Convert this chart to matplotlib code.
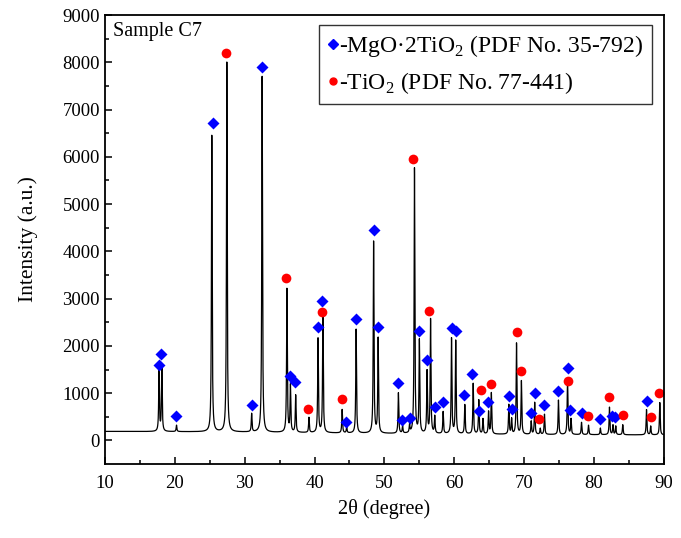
import numpy as np
import matplotlib
matplotlib.use('Agg')
import matplotlib.pyplot as plt
from matplotlib.lines import Line2D

plt.rcParams['font.family'] = 'Liberation Serif'
plt.rcParams['mathtext.fontset'] = 'custom'
plt.rcParams['mathtext.rm'] = 'Liberation Serif'

# peaks of the trace (2theta, intensity at top)
peak_pos = [17.75, 18.15, 20.25, 25.3, 27.45, 31.0, 32.5, 36.05, 36.55, 37.3,
            39.2, 40.5, 41.2, 43.95, 44.6, 45.95, 48.45, 49.1, 52.0, 52.6,
            53.6, 54.3, 55.0, 56.1, 56.6, 57.2, 58.4, 59.6, 60.2, 61.5,
            62.7, 63.5, 64.1, 64.9, 65.3, 67.8, 68.2, 68.9, 69.6, 71.0,
            71.5, 72.3, 72.9, 74.9, 76.2, 76.7, 78.2, 79.2, 80.9, 82.2,
            82.7, 83.1, 84.1, 87.5, 88.1, 89.4]
peak_int = [1450, 1600, 320, 6450, 8000, 560, 7700, 3200, 1150, 950,
            480, 2150, 2700, 650, 280, 2350, 4200, 2150, 1000, 300,
            320, 5750, 2100, 1450, 2550, 500, 600, 2150, 2100, 750,
            1200, 850, 450, 600, 1000, 750, 450, 2050, 1250, 400,
            800, 250, 550, 850, 1300, 450, 380, 320, 260, 700,
            320, 300, 330, 650, 300, 800]

# background level
bg_x = [10, 20, 30, 40, 50, 60, 70, 80, 90]
bg_y = [190, 185, 175, 160, 145, 135, 125, 120, 115]

# MgO.2TiO2 markers
mg_x = [17.77, 18.1, 20.2, 25.45, 31.07, 32.5, 36.5, 37.2, 40.5, 41.1,
        44.5, 45.95, 48.5, 49.1, 52.0, 52.5, 53.6, 54.97, 56.07, 57.25,
        58.4, 59.6, 60.2, 61.4, 62.6, 63.5, 64.8, 67.8, 68.2, 71.0,
        71.5, 72.8, 74.9, 76.2, 76.6, 78.2, 80.9, 82.6, 83.0, 87.5]
mg_y = [1600, 1830, 510, 6710, 755, 7910, 1370, 1230, 2400, 2950,
        380, 2570, 4455, 2400, 1210, 440, 470, 2320, 1710, 705,
        810, 2375, 2320, 965, 1400, 630, 805, 945, 670, 590,
        1000, 755, 1050, 1530, 650, 580, 450, 510, 490, 840]

# TiO2 markers
ti_x = [27.35, 35.85, 39.1, 41.0, 43.95, 54.1, 56.4, 63.8, 65.2, 68.9,
        69.6, 72.1, 76.2, 79.1, 82.1, 84.1, 88.1, 89.3]
ti_y = [8200, 3445, 660, 2710, 875, 5950, 2730, 1070, 1200, 2285,
        1460, 450, 1250, 510, 920, 545, 490, 1000]

tt = np.arange(10, 90.001, 0.01)
counts = np.interp(tt, bg_x, bg_y)
w = 0.06
for p, h in zip(peak_pos, peak_int):
    b = np.interp(p, bg_x, bg_y)
    counts += (h - b) * w**2 / ((tt - p)**2 + w**2)

fig = plt.figure(figsize=(6.81, 5.38), dpi=100)
ax = fig.add_axes([0.154, 0.1375, 0.821, 0.8345])

ax.plot(tt, counts, color='black', lw=0.9)
ax.plot(mg_x, mg_y, 'D', color='#0000ff', ms=6.5, mec='none', ls='none')
ax.plot(ti_x, ti_y, 'o', color='#ff0000', ms=7, mec='none', ls='none')

ax.set_xlim(10, 90)
ax.set_ylim(-500, 9000)
ax.set_xticks(np.arange(10, 91, 10))
ax.set_xticks(np.arange(15, 90, 10), minor=True)
ax.set_yticks(np.arange(0, 9001, 1000))
ax.set_yticks(np.arange(500, 9000, 1000), minor=True)
ax.tick_params(which='major', direction='in', length=5, width=1.1, labelsize=13.5)
ax.tick_params(which='minor', direction='in', length=3, width=1.1)
ax.tick_params(axis='x', pad=8)
for s in ax.spines.values():
    s.set_linewidth(1.3)

ax.set_xlabel('2θ (degree)', fontsize=14.5, labelpad=5)
ax.set_ylabel('Intensity (a.u.)', fontsize=15.5, labelpad=18)

ax.text(0.015, 0.985, 'Sample C7', transform=ax.transAxes, ha='left', va='top', fontsize=14.5)

handles = [Line2D([], [], marker='D', color='#0000ff', ms=5, ls='none'),
           Line2D([], [], marker='o', color='#ff0000', ms=5, ls='none')]
labels = ['-MgO·2TiO$_2$ (PDF No. 35-792)', '-TiO$_2$ (PDF No. 77-441)']
leg = ax.legend(handles, labels, loc='upper right', bbox_to_anchor=(0.978, 0.978),
                fontsize=17, handlelength=0.45, handletextpad=0.05,
                fancybox=False, framealpha=1, borderpad=0.35, labelspacing=0.45,
                borderaxespad=0)
leg.get_frame().set_edgecolor('#333333')
leg.get_frame().set_linewidth(1.0)

fig.savefig('out.png', dpi=100)
